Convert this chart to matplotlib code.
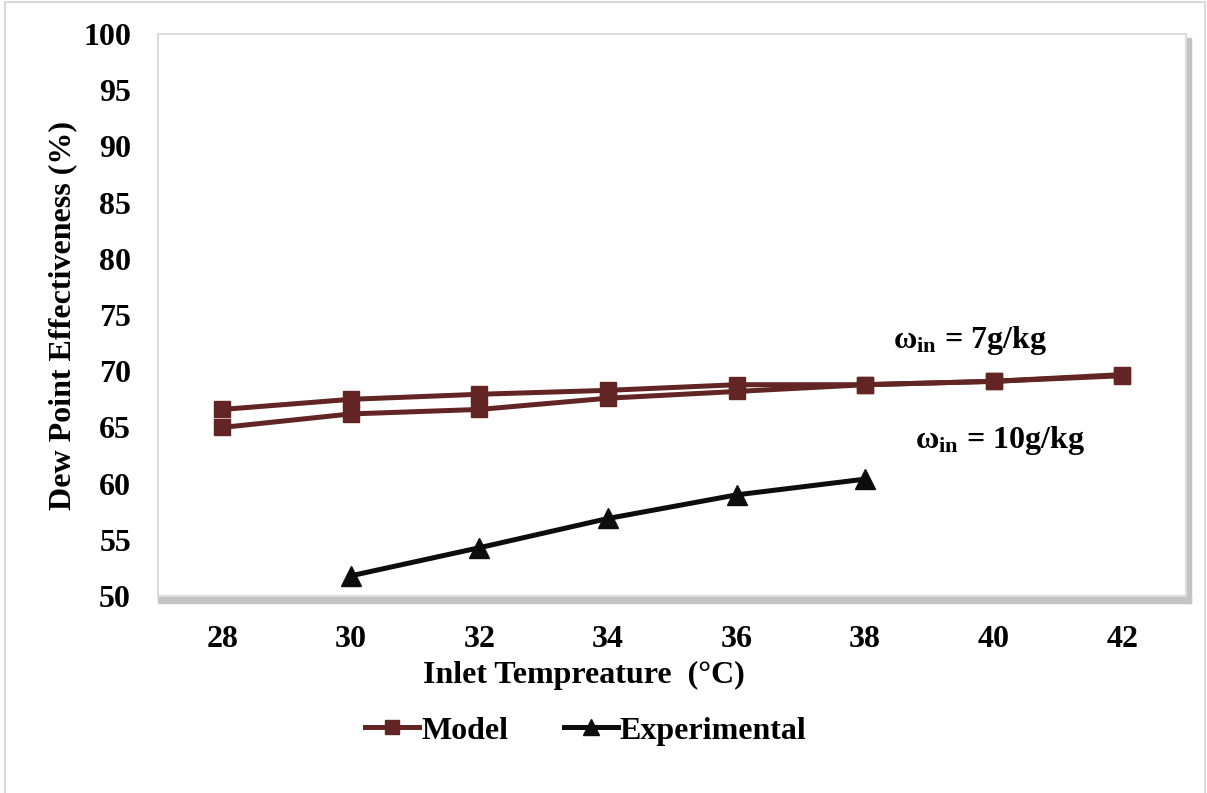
import matplotlib.pyplot as plt
from matplotlib.patches import Rectangle

# inlet temperature (°C)
temp_model = [28, 30, 32, 34, 36, 38, 40, 42]
temp_exp = [30, 32, 34, 36, 38]

# dew point effectiveness (%)
model_7 = [66.6, 67.5, 67.95, 68.3, 68.8, 68.8, 69.1, 69.7]
model_10 = [65.0, 66.2, 66.6, 67.6, 68.2, 68.8, 69.1, 69.6]
experimental = [51.8, 54.3, 56.9, 59.0, 60.4]

xticks = [28, 30, 32, 34, 36, 38, 40, 42]
yticks = [50, 55, 60, 65, 70, 75, 80, 85, 90, 95, 100]

plt.rcParams['font.family'] = ['Liberation Serif', 'DejaVu Serif']
plt.rcParams['font.weight'] = 'bold'
plt.rcParams['mathtext.fontset'] = 'custom'
plt.rcParams['mathtext.rm'] = 'Liberation Serif:bold'
plt.rcParams['mathtext.it'] = 'Liberation Serif:bold'
plt.rcParams['mathtext.bf'] = 'Liberation Serif:bold'

maroon = '#632523'
fs = 23

fig = plt.figure(figsize=(12.07, 7.93), dpi=100)
ax = fig.add_axes([0.131, 0.2484, 0.852, 0.7087])

ax.plot(temp_model, model_7, color=maroon, lw=3.6, marker='s', ms=12,
        label='Model', zorder=3)
ax.plot(temp_model, model_10, color=maroon, lw=3.6, marker='s', ms=12,
        zorder=3)
ax.plot(temp_exp, experimental, color='#0d0d0d', lw=3.6, marker='^', ms=14,
        label='Experimental', zorder=3)

ax.set_xlim(27, 43)
ax.set_ylim(50, 100)
ax.set_xticks(xticks)
ax.set_yticks(yticks)
ax.tick_params(length=0, labelsize=fs)
ax.tick_params(axis='x', pad=21)
ax.tick_params(axis='y', pad=19.5)
for lab in ax.get_xticklabels() + ax.get_yticklabels():
    lab.set_fontweight('bold')

for s in ax.spines.values():
    s.set_color('#dcdcdc')
    s.set_linewidth(1.5)

# drop shadow on the right and bottom of the plot area
ax.add_patch(Rectangle((1.0, -0.012), 0.004, 1.005, transform=ax.transAxes,
                       color='#c4c4c4', clip_on=False, zorder=0))
ax.add_patch(Rectangle((0.0, -0.012), 1.004, 0.012, transform=ax.transAxes,
                       color='#c4c4c4', clip_on=False, zorder=0))

ax.set_xlabel('Inlet Tempreature  (°C)', fontsize=fs, fontweight='bold')
ax.xaxis.set_label_coords(0.414, -0.1406)
ax.xaxis.label.set_va('center')
ax.set_ylabel('Dew Point Effectiveness (%)', fontsize=fs, fontweight='bold',
              labelpad=4.5)

ax.text(38.43, 72.7, r'$\mathrm{\omega}_{\mathrm{in}}$ = 7g/kg', fontsize=fs,
        fontweight='bold', va='center')
ax.text(38.77, 63.8, r'$\mathrm{\omega}_{\mathrm{in}}$ = 10g/kg', fontsize=fs,
        fontweight='bold', va='center')

leg = ax.legend(loc='center', bbox_to_anchor=(0.416, -0.24), ncol=2,
                frameon=False, fontsize=fs, handlelength=1.7,
                handletextpad=0.05, columnspacing=1.75, markerscale=0.85)
for t in leg.get_texts():
    t.set_fontweight('bold')

# outer frame of the figure
fig.add_artist(Rectangle((0.004, -0.01), 0.994, 1.007,
                         transform=fig.transFigure, fill=False,
                         edgecolor='#d9d9d9', lw=1.5))

fig.savefig('out.png', dpi=100)
